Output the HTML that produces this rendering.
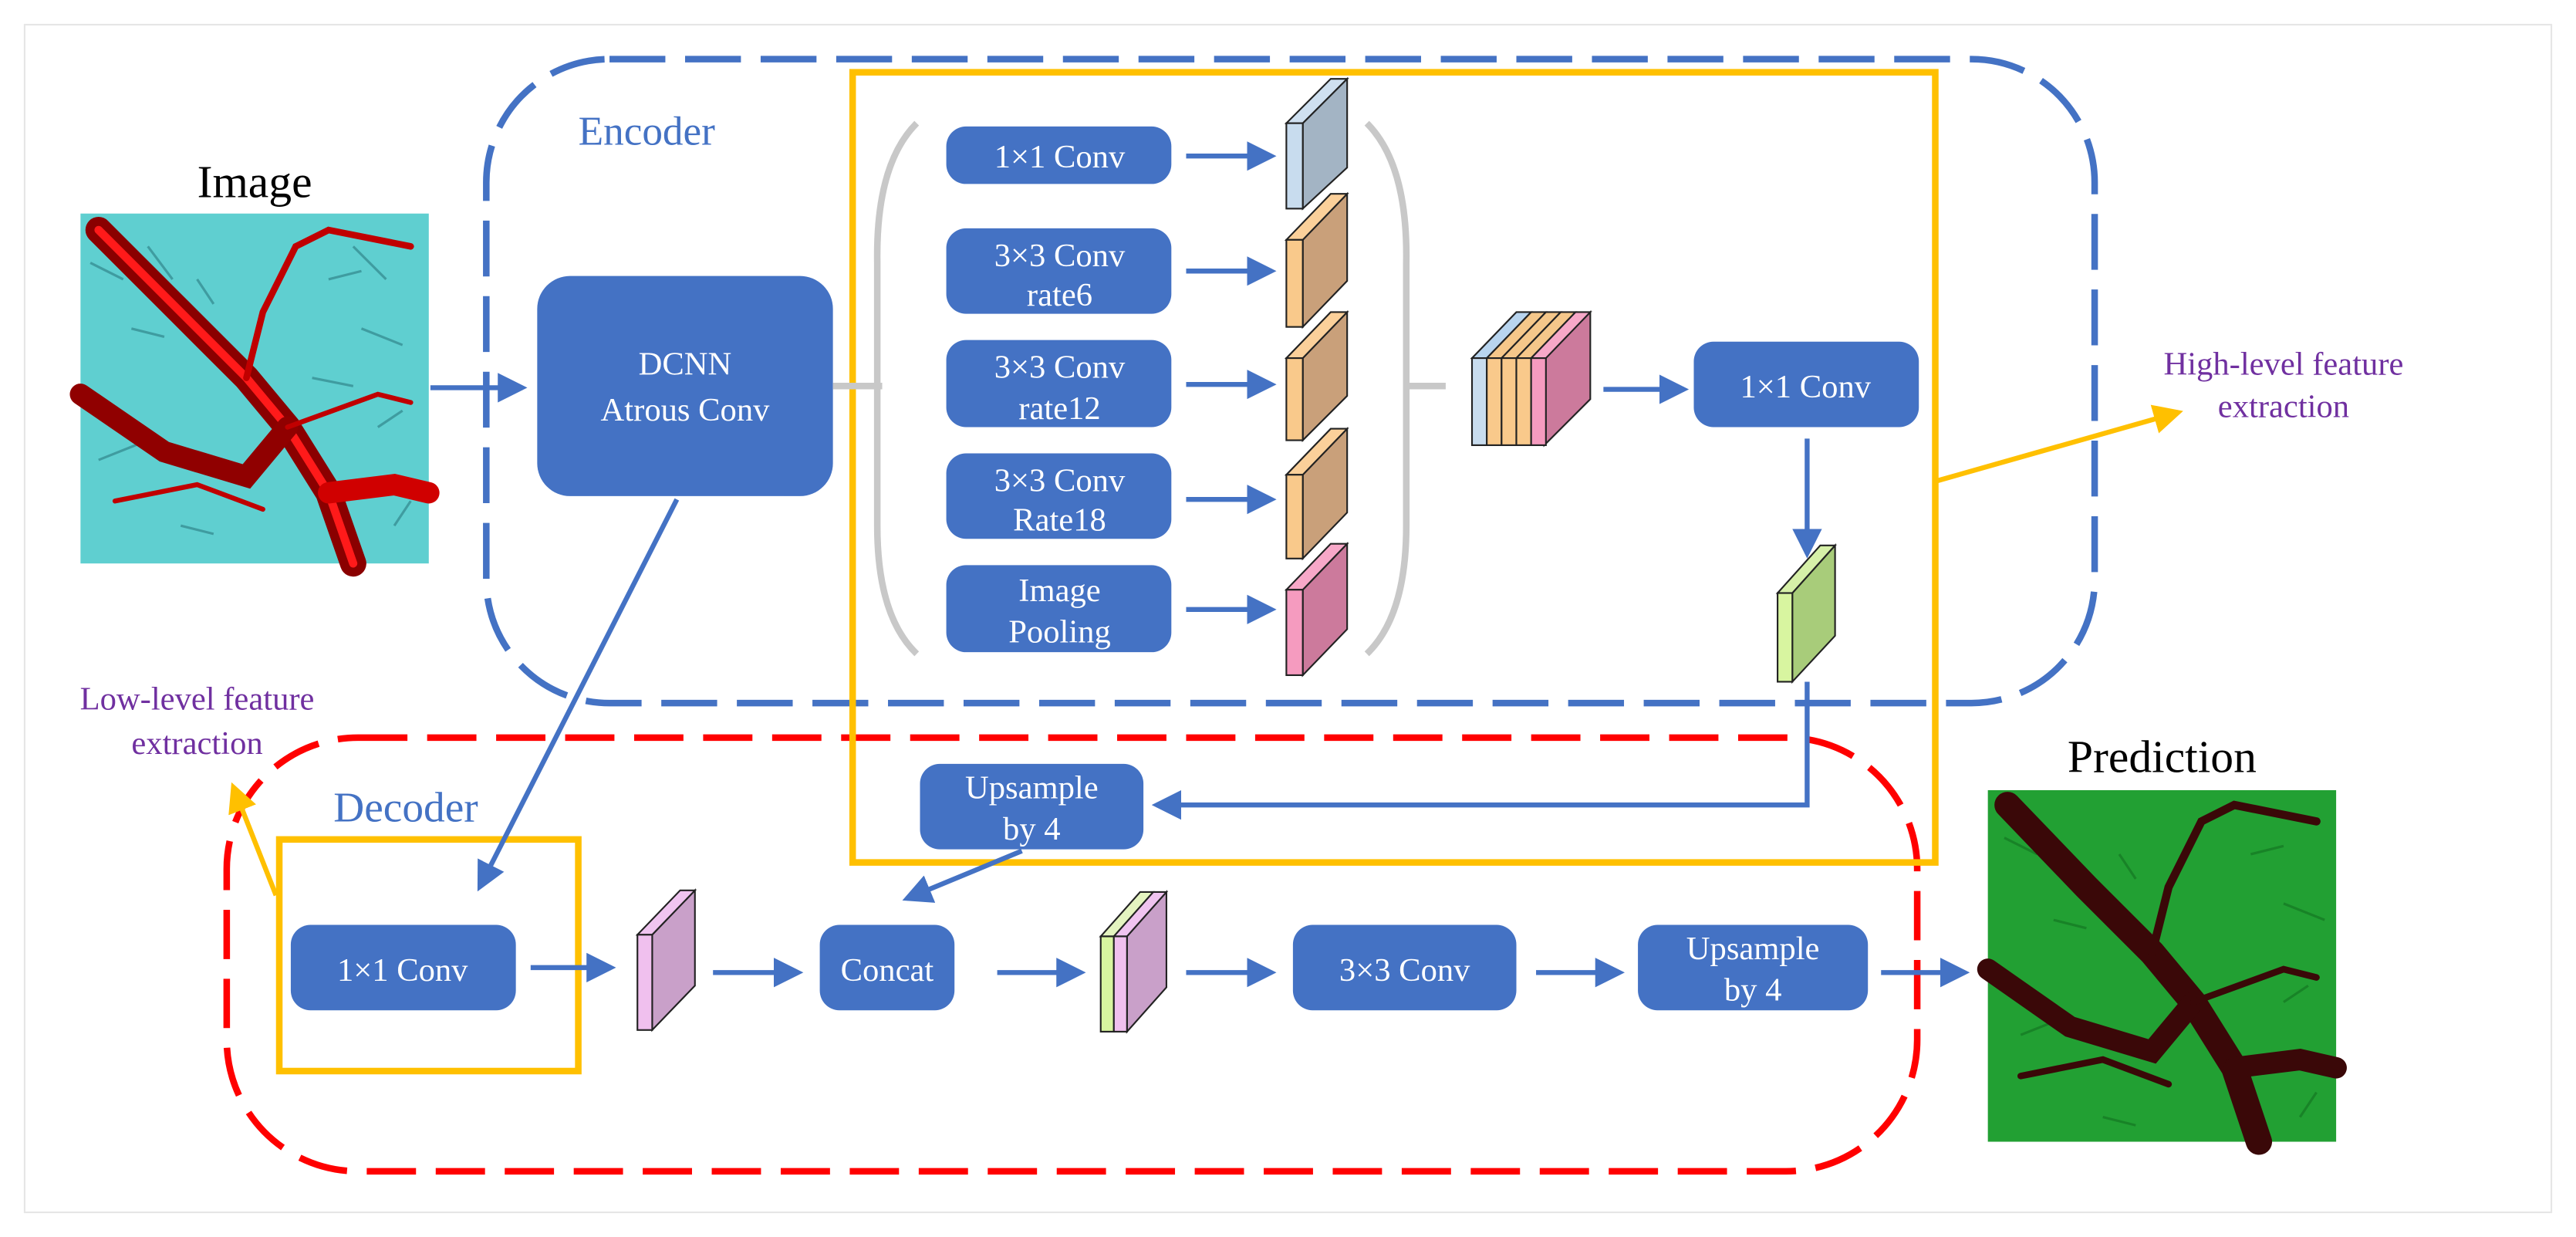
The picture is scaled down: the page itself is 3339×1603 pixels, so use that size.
<!DOCTYPE html>
<html><head><meta charset="utf-8"><style>
html,body{margin:0;padding:0;background:#fff;}
svg{display:block;font-family:"Liberation Serif","Times New Roman",serif;}
svg text{font-family:"Liberation Serif","Times New Roman",serif;}
</style></head><body>
<svg width="3339" height="1603" viewBox="0 0 1568 753" preserveAspectRatio="none" xmlns="http://www.w3.org/2000/svg" font-family="Liberation Serif, serif">
<defs>
<marker id="ab" markerWidth="6" markerHeight="6" refX="5" refY="3" orient="auto" markerUnits="strokeWidth"><path d="M0,0 L6,3 L0,6 z" fill="#4472c4"/></marker>
<marker id="ay" markerWidth="6" markerHeight="6" refX="5" refY="3" orient="auto" markerUnits="strokeWidth"><path d="M0,0 L6,3 L0,6 z" fill="#ffc000"/></marker>
</defs>
<rect x="15" y="15" width="1538" height="723" fill="none" stroke="#e6e6e6" stroke-width="1"/>

<rect x="296" y="36" width="979" height="392" rx="75" fill="none" stroke="#4472c4" stroke-width="4" stroke-dasharray="34 12"/>
<text x="352" y="88" font-size="25" fill="#4472c4" font-family="Liberation Serif, serif">Encoder</text>

<rect x="138" y="449" width="1029" height="264" rx="80" fill="none" stroke="#ff0000" stroke-width="4" stroke-dasharray="30 12"/>
<text x="203" y="500" font-size="26" fill="#4472c4" font-family="Liberation Serif, serif">Decoder</text>

<rect x="519" y="44" width="659" height="481" fill="none" stroke="#ffc000" stroke-width="4"/>
<rect x="170" y="511" width="182" height="141" fill="none" stroke="#ffc000" stroke-width="4"/>

<text x="155" y="120" font-size="28" text-anchor="middle" fill="#000" font-family="Liberation Serif, serif">Image</text>
<rect x="49" y="130" width="212" height="213" fill="#5fcfd0"/>
<g stroke="#2a7a80" stroke-width="1.5" opacity="0.6" fill="none">
<path d="M55,160 l20,10 M90,150 l15,20 M200,170 l20,-5 M220,200 l25,10 M230,260 l15,-10 M80,200 l20,5 M60,280 l25,-10 M110,320 l20,5 M240,320 l10,-15 M190,230 l25,5 M120,170 l10,15 M215,150 l20,20"/>
</g>
<g fill="none" stroke-linecap="round">
<path d="M60,140 L110,190 L150,230 L175,260 L200,300 L215,343" stroke="#8a0000" stroke-width="16"/>
<path d="M60,140 L110,190 L150,230 L175,260 L200,300 L215,343" stroke="#ff1a1a" stroke-width="5"/>
<path d="M49,240 L100,275 L150,290 L175,260" stroke="#900000" stroke-width="13"/>
<path d="M150,230 L160,190 L180,150 L200,140 L250,150" stroke="#c00000" stroke-width="4"/>
<path d="M175,260 L230,240 L250,245" stroke="#c00000" stroke-width="3"/>
<path d="M200,300 L240,295 L261,300" stroke="#d00000" stroke-width="13"/>
<path d="M70,305 L120,295 L160,310" stroke="#c00000" stroke-width="3"/>
</g>
<line x1="262" y1="236" x2="318" y2="236" stroke="#4472c4" stroke-width="3" marker-end="url(#ab)"/>

<rect x="327" y="168" width="180" height="134" rx="20" fill="#4472c4"/>
<g fill="#fff" font-size="20" text-anchor="middle" font-family="Liberation Serif, serif">
<text x="417" y="228">DCNN</text>
<text x="417" y="256">Atrous Conv</text>
</g>

<line x1="507" y1="235" x2="537" y2="235" stroke="#c8c8c8" stroke-width="4"/>
<line x1="856" y1="235" x2="880" y2="235" stroke="#c8c8c8" stroke-width="4"/>
<path d="M558,75 Q533,100 534,160 L534,320 Q534,375 558,398" fill="none" stroke="#c8c8c8" stroke-width="4"/>
<path d="M832,75 Q857,100 856,160 L856,320 Q856,375 832,398" fill="none" stroke="#c8c8c8" stroke-width="4"/>

<g fill="#4472c4">
<rect x="576" y="77" width="137" height="35" rx="12"/>
<rect x="576" y="139" width="137" height="52" rx="12"/>
<rect x="576" y="207" width="137" height="53" rx="12"/>
<rect x="576" y="276" width="137" height="52" rx="12"/>
<rect x="576" y="344" width="137" height="53" rx="12"/>
</g>
<g fill="#fff" font-size="20" text-anchor="middle" font-family="Liberation Serif, serif">
<text x="645" y="102">1×1 Conv</text>
<text x="645" y="162">3×3 Conv</text><text x="645" y="186">rate6</text>
<text x="645" y="230">3×3 Conv</text><text x="645" y="255">rate12</text>
<text x="645" y="299">3×3 Conv</text><text x="645" y="323">Rate18</text>
<text x="645" y="366">Image</text><text x="645" y="391">Pooling</text>
</g>
<g stroke="#4472c4" stroke-width="3" marker-end="url(#ab)">
<line x1="722" y1="95" x2="774" y2="95"/>
<line x1="722" y1="165" x2="774" y2="165"/>
<line x1="722" y1="234" x2="774" y2="234"/>
<line x1="722" y1="304" x2="774" y2="304"/>
<line x1="722" y1="371" x2="774" y2="371"/>
</g>

<g stroke="#222" stroke-width="1">
<polygon points="793,75 820,48 820,102 793,127" fill="#a3b4c4"/><polygon points="783,75 793,75 820,48 810,48" fill="#cfe0f0"/><rect x="783" y="75" width="10" height="52" fill="#c8dcee"/>
<polygon points="793,146 820,118 820,171 793,199" fill="#c9a07a"/><polygon points="783,146 793,146 820,118 810,118" fill="#fbd09a"/><rect x="783" y="146" width="10" height="53" fill="#f9c98b"/>
<polygon points="793,218 820,190 820,241 793,268" fill="#c9a07a"/><polygon points="783,218 793,218 820,190 810,190" fill="#fbd09a"/><rect x="783" y="218" width="10" height="50" fill="#f9c98b"/>
<polygon points="793,289 820,261 820,312 793,340" fill="#c9a07a"/><polygon points="783,289 793,289 820,261 810,261" fill="#fbd09a"/><rect x="783" y="289" width="10" height="51" fill="#f9c98b"/>
<polygon points="793,359 820,331 820,383 793,411" fill="#cc7a9c"/><polygon points="783,359 793,359 820,331 810,331" fill="#f7a8c8"/><rect x="783" y="359" width="10" height="52" fill="#f59bbf"/>
</g>

<g stroke="#222" stroke-width="1">
<polygon points="940,218 968,190 968,243 940,271" fill="#cc7a9c"/>
<polygon points="896,218 905,218 932,190 923,190" fill="#b8d4ee"/>
<polygon points="905,218 914,218 941,190 932,190" fill="#f5c78a"/>
<polygon points="914,218 923,218 950,190 941,190" fill="#f5c78a"/>
<polygon points="923,218 932,218 959,190 950,190" fill="#f5c78a"/>
<polygon points="932,218 941,218 968,190 959,190" fill="#f7a8c8"/>
<rect x="896" y="218" width="9" height="53" fill="#c8dcee"/>
<rect x="905" y="218" width="9" height="53" fill="#f9c98b"/>
<rect x="914" y="218" width="9" height="53" fill="#f9c98b"/>
<rect x="923" y="218" width="9" height="53" fill="#f9c98b"/>
<rect x="932" y="218" width="9" height="53" fill="#f59bbf"/>
</g>
<line x1="976" y1="237" x2="1025" y2="237" stroke="#4472c4" stroke-width="3" marker-end="url(#ab)"/>
<rect x="1031" y="208" width="137" height="52" rx="12" fill="#4472c4"/>
<text x="1099" y="242" font-size="20" fill="#fff" text-anchor="middle" font-family="Liberation Serif, serif">1×1 Conv</text>
<line x1="1100" y1="267" x2="1100" y2="337" stroke="#4472c4" stroke-width="3" marker-end="url(#ab)"/>
<g stroke="#222" stroke-width="1">
<polygon points="1091,361 1117,332 1117,387 1091,415" fill="#a8cc7a"/><polygon points="1082,361 1091,361 1117,332 1108,332" fill="#d6f0a8"/><rect x="1082" y="361" width="9" height="54" fill="#d8f5a0"/>
</g>

<line x1="1178" y1="293" x2="1326" y2="251" stroke="#ffc000" stroke-width="3" marker-end="url(#ay)"/>
<g font-size="20" fill="#7030a0" text-anchor="middle" font-family="Liberation Serif, serif">
<text x="1390" y="228">High-level feature</text>
<text x="1390" y="254">extraction</text>
<text x="120" y="432">Low-level feature</text>
<text x="120" y="459">extraction</text>
</g>

<polyline points="1100,415 1100,490 704,490" fill="none" stroke="#4472c4" stroke-width="3" marker-end="url(#ab)"/>
<rect x="560" y="465" width="136" height="52" rx="12" fill="#4472c4"/>
<line x1="622" y1="518" x2="552" y2="547" stroke="#4472c4" stroke-width="3" marker-end="url(#ab)"/>

<line x1="412" y1="304" x2="292" y2="540" stroke="#4472c4" stroke-width="3" marker-end="url(#ab)"/>
<line x1="168" y1="545" x2="142" y2="479" stroke="#ffc000" stroke-width="3" marker-end="url(#ay)"/>

<rect x="177" y="563" width="137" height="52" rx="12" fill="#4472c4"/>
<g stroke="#222" stroke-width="1">
<polygon points="397,569 423,542 423,600 397,627" fill="#c9a0c9"/><polygon points="388,569 397,569 423,542 414,542" fill="#f0c4f0"/><rect x="388" y="569" width="9" height="58" fill="#f0c0ee"/>
<polygon points="686,570 710,543 710,601 686,628" fill="#c9a0c9"/>
<polygon points="670,570 678,570 702,543 694,543" fill="#e4f4c0"/>
<polygon points="678,570 686,570 710,543 702,543" fill="#f0c4f0"/>
<rect x="670" y="570" width="8" height="58" fill="#d8f5a0"/><rect x="678" y="570" width="8" height="58" fill="#f0c0ee"/>
</g>
<g stroke="#4472c4" stroke-width="3" marker-end="url(#ab)">
<line x1="323" y1="589" x2="372" y2="589"/>
<line x1="434" y1="592" x2="486" y2="592"/>
<line x1="607" y1="592" x2="658" y2="592"/>
<line x1="722" y1="592" x2="774" y2="592"/>
<line x1="935" y1="592" x2="986" y2="592"/>
<line x1="1145" y1="592" x2="1196" y2="592"/>
</g>
<rect x="499" y="563" width="82" height="52" rx="12" fill="#4472c4"/>
<rect x="787" y="563" width="136" height="52" rx="12" fill="#4472c4"/>
<rect x="997" y="563" width="140" height="52" rx="12" fill="#4472c4"/>
<g fill="#fff" font-size="20" text-anchor="middle" font-family="Liberation Serif, serif">
<text x="628" y="486">Upsample</text>
<text x="628" y="511">by 4</text>
<text x="245" y="597">1×1 Conv</text>
<text x="540" y="597">Concat</text>
<text x="855" y="597">3×3 Conv</text>
<text x="1067" y="584">Upsample</text>
<text x="1067" y="609">by 4</text>
</g>

<text x="1316" y="470" font-size="28" text-anchor="middle" fill="#000" font-family="Liberation Serif, serif">Prediction</text>
<rect x="1210" y="481" width="212" height="214" fill="#22a033"/>
<g stroke="#137020" stroke-width="1.5" opacity="0.6" fill="none">
<path d="M1220,510 l20,10 M1370,520 l20,-5 M1390,550 l25,10 M1390,610 l15,-10 M1250,560 l20,5 M1230,630 l25,-10 M1280,680 l20,5 M1400,680 l10,-15 M1290,520 l10,15"/>
</g>
<g fill="none" stroke="#3a0808" stroke-linecap="round">
<path d="M1222,490 L1270,540 L1310,580 L1335,610 L1360,650 L1375,695" stroke-width="16"/>
<path d="M1210,590 L1260,625 L1310,640 L1335,610" stroke-width="13"/>
<path d="M1310,580 L1320,540 L1340,500 L1360,490 L1410,500" stroke-width="5"/>
<path d="M1335,610 L1390,590 L1410,595" stroke-width="4"/>
<path d="M1360,650 L1400,645 L1422,650" stroke-width="13"/>
<path d="M1230,655 L1280,645 L1320,660" stroke-width="4"/>
</g>
</svg>
</body></html>
